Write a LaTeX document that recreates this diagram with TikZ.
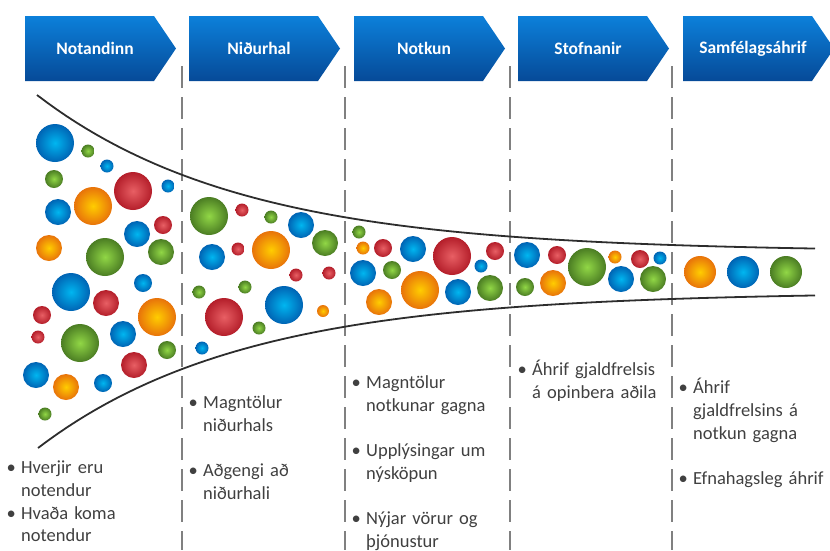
\documentclass[tikz,border=0pt]{standalone}
\usepackage{fontspec}
\setmainfont{Carlito}
\definecolor{hdrtop}{RGB}{12,128,218}
\definecolor{hdrbot}{RGB}{6,74,152}
\definecolor{txtgray}{RGB}{64,64,64}
\definecolor{sepgray}{RGB}{128,128,128}
\definecolor{linegray}{RGB}{45,45,45}
\definecolor{blueA}{RGB}{0,182,240}
\definecolor{blueB}{RGB}{0,100,180}
\definecolor{orangeA}{RGB}{255,205,0}
\definecolor{orangeB}{RGB}{232,115,10}
\definecolor{redA}{RGB}{232,95,100}
\definecolor{redB}{RGB}{180,30,42}
\definecolor{greenA}{RGB}{145,215,70}
\definecolor{greenB}{RGB}{75,125,35}
\newcommand\itm[1]{\par\leavevmode\llap{\makebox[20pt][c]{\textbullet}}#1}
\newcommand\itmgap{\par\vspace{22.7pt}}
\tikzset{
  hdr/.style={top color=hdrtop, bottom color=hdrbot},
  hdrtext/.style={text=white, font=\bfseries\fontsize{17.5}{20}\selectfont, inner sep=0pt},
  sep/.style={sepgray, line width=2.6pt, dash pattern=on 22pt off 9pt},
  funnel/.style={linegray, line width=1.8pt},
  txt/.style={anchor=base west, inner sep=0pt, text width=170pt, align=left, text=txtgray,
    font=\fontsize{18.5}{22.7}\selectfont},
  ballb/.style={inner color=blueA, outer color=blueB},
  ballo/.style={inner color=orangeA, outer color=orangeB},
  ballr/.style={inner color=redA, outer color=redB},
  ballg/.style={inner color=greenA, outer color=greenB},
}
\begin{document}
\begin{tikzpicture}[x=1pt,y=-1pt]
\useasboundingbox (0,0) rectangle (830,550);
\foreach \i/\x/\lbl in {1/25/Notandinn, 2/189/Niðurhal, 3/354/Notkun, 4/518/Stofnanir, 5/683/Samfélagsáhrif}{
  \shade[hdr] (\x,16) -- ++(129,0) -- ++(22,32.5) -- ++(-22,32.5) -- ++(-129,0) -- cycle;
  \node[hdrtext] (h\i) at (\x+70,48.5) {\lbl};
}
\foreach \x in {182,345,510,672}
  \draw[sep] (\x,66) -- (\x,550);
\draw[funnel] plot[domain=37:815, samples=80] (\x, {252-157*exp(-0.0049*(\x-37))});
\draw[funnel] plot[domain=38:815, samples=80] (\x, {292+156*exp(-0.0049*(\x-38))});
\foreach \x/\y/\r/\c in {
  55/143/19/b, 88/151/6.5/g, 107/166/6.5/b, 54/179/9/g, 133/191/19/r, 168/186/6.5/b,
  58/212/13/b, 93/206/19/o, 163/225/9/r, 137/234/13/b, 49/248/13/o, 105/257/19/g, 161/252/13/g,
  71/292/19/b, 143/283/9/b, 106/303/13/r, 42/315/9/r, 157/317/19/o, 38/337/6.5/r, 80/343/19/g,
  123/334/13/b, 167/350/9/g, 134/365/13/r, 36/375/13/b, 66/387/13/o, 103/383/9/b, 45/414/6.5/g,
  209/216/19/g, 242/210/6.5/r, 271/217/6.5/g, 301/225/13/b, 212/257/13/b, 238/249/6.5/r,
  271/250/19/o, 325/243/13/g, 296/275/6.5/r, 329/273/6.5/r, 199/292/6.5/g, 245/287/6.5/g,
  224/317/19/r, 284/305/19/b, 323/311/6/o, 259/328/6.5/g, 202/348/6.5/b,
  359/232/6.5/g, 363/248/6.5/o, 383/248/9/r, 413/249/13/b, 452/256/19/r, 495/251/9/r,
  481/266/6.5/b, 363/273/13/b, 392/270/9/g, 420/290/19/o, 458/292/13/b, 490/288/13/g, 379/302/13/o,
  527/255/13/b, 557/255/9/r, 587/267/19/g, 615/257/6.5/o, 640/259/9/r, 660/258/6.5/b,
  525/287/9/g, 553/283/13/o, 621/279/13/b, 653/279/13/g,
  700/272/16/o, 743/272/16/b, 786/272/16/g}
  \shade[ball\c] (\x,\y) circle (\r pt);
\node[txt] (t1) at (21,451) {\itm{Hverjir eru\newline notendur}\itm{Hvaða koma\newline notendur}};
\node[txt] (t2) at (203,386) {\itm{Magntölur\newline niðurhals}\itmgap\itm{Aðgengi að\newline niðurhali}};
\node[txt] (t3) at (366,366) {\itm{Magntölur\newline notkunar gagna}\itmgap\itm{Upplýsingar um\newline nýsköpun}\itmgap\itm{Nýjar vörur og\newline þjónustur}};
\node[txt] (t4) at (532,353) {\itm{Áhrif gjaldfrelsis\newline á opinbera aðila}};
\node[txt] (t5) at (693,371) {\itm{Áhrif\newline gjaldfrelsins á\newline notkun gagna}\itmgap\itm{Efnahagsleg áhrif}};
\end{tikzpicture}
\end{document}
